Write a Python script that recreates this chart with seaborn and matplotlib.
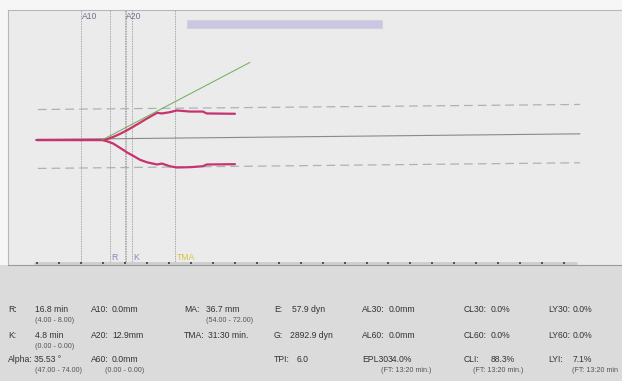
import numpy as np
import pandas as pd
import matplotlib
matplotlib.use("Agg")
import matplotlib.pyplot as plt
import seaborn as sns
from matplotlib.patches import Rectangle

# ---------------- data ----------------
trace_time = [0, 14.9, 16.0, 17.4, 19.0, 20.6, 21.9, 23.5, 25.1, 27.4, 28.5, 30.3, 31.9, 34.9, 37.8, 38.7, 45.1]
upper_amp = [0, 0, 0.5, 1.9, 3.9, 6.2, 8.3, 10.9, 13.6, 17.2, 16.8, 17.6, 18.7, 18.0, 18.0, 16.8, 16.6]
lower_amp = [0, 0, -0.8, -2.2, -5.0, -7.9, -9.9, -12.5, -14.1, -15.5, -14.9, -16.6, -17.4, -17.2, -16.6, -15.5, -15.3]

alpha_time = [14.9, 48.5]
alpha_amp = [0, 49.1]

ref_time = [0.3, 123.5]
center_ref = [0.3, 3.9]
upper_ref = [19.3, 22.5]
lower_ref = [-18.0, -14.4]

vline_times = [10.0, 16.8, 20.0, 20.35, 21.6, 31.5]
top_label_names = ["A10", "A20"]
top_label_times = [10.0, 20.0]
bottom_label_names = ["R", "K", "TMA"]
bottom_label_times = [16.8, 21.6, 31.5]

tick_times = list(range(0, 125, 5))

stat_labels = ["R:", "K:", "Alpha:", "A10:", "A20:", "A60:", "MA:", "TMA:",
               "E:", "G:", "TPI:", "AL30:", "AL60:", "EPL30",
               "CL30:", "CL60:", "CLI:", "LY30:", "LY60:", "LYI:"]
stat_values = ["16.8 min", "4.8 min", "35.53 °", "0.0mm", "12.9mm", "0.0mm",
               "36.7 mm", "31:30 min.", "57.9 dyn", "2892.9 dyn", "6.0",
               "0.0mm", "0.0mm", "34.0%", "0.0%", "0.0%", "88.3%",
               "0.0%", "0.0%", "7.1%"]
stat_ranges = ["(4.00 - 8.00)", "(0.00 - 0.00)", "(47.00 - 74.00)", "", "", "(0.00 - 0.00)",
               "(54.00 - 72.00)", "", "", "", "", "", "", "(FT: 13:20 min.)",
               "", "", "(FT: 13:20 min.)", "", "", "(FT: 13:20 min"]

# ---------------- layout (pixels) ----------------
label_x = [8, 8, 8, 91, 91, 91, 184, 184, 274, 274, 274, 362, 362, 362, 464, 464, 464, 548, 548, 548]
value_x = [35, 35, 34, 112, 112, 112, 206, 208, 292, 290, 297, 389, 389, 388, 491, 491, 491, 573, 573, 573]
sub_x = [35, 35, 35, 0, 0, 105, 206, 0, 0, 0, 0, 0, 0, 381, 0, 0, 473, 0, 0, 572]
row_idx = [0, 1, 2, 0, 1, 2, 0, 1, 0, 1, 2, 0, 1, 2, 0, 1, 2, 0, 1, 2]
row_y = [309, 335, 359]
sub_dy = 11

sns.set_style("white")
plt.rcParams["font.family"] = ["Liberation Sans", "DejaVu Sans"]

W, H = 622, 381
fig = plt.figure(figsize=(W / 100, H / 100), dpi=100)
fig.patch.set_facecolor("#f6f6f6")


def fx(x):
    return x / W


def fy(y):
    return 1 - y / H


# grey lower paper panel
fig.patches.append(Rectangle((0, 0), 1, fy(265), transform=fig.transFigure,
                             facecolor="#dbdbdb", edgecolor="none", zorder=-1))

ax = fig.add_axes([fx(8), fy(265), 1 - fx(8), fy(10) - fy(265)])
ax.set_facecolor("#ebebeb")
ax.set_xlim(-6.48, 133.07)
ax.set_ylim(-79.11, 82.28)
bar_y = -77.9

# reference lines
ax.plot(ref_time, center_ref, color="#8a8a8a", lw=0.8, zorder=2)
ax.plot(ref_time, upper_ref, color="#aab3b8", lw=0.9, dashes=(7, 4), zorder=2)
ax.plot(ref_time, lower_ref, color="#aab3b8", lw=0.9, dashes=(7, 4), zorder=2)

# vertical markers
ax.vlines(vline_times, bar_y, 82.28, colors="#909090", linestyles=(0, (1, 1)), lw=0.6, zorder=1)

# time axis bar with ticks
ax.plot([tick_times[0] - 0.3, ref_time[-1] - 0.8], [bar_y, bar_y], color="#cdcdcd", lw=2.0, zorder=2)
ax.scatter(tick_times, [bar_y] * len(tick_times), s=3, marker="s", color="#555555", zorder=3, linewidths=0)

# trace
n = len(trace_time)
df = pd.DataFrame({"time": trace_time * 2,
                   "amp": upper_amp + lower_amp,
                   "branch": ["upper"] * n + ["lower"] * n})
sns.lineplot(data=df, x="time", y="amp", units="branch", estimator=None, sort=False,
             color="#c8326e", lw=1.6, ax=ax, zorder=4)
sns.lineplot(x=alpha_time, y=alpha_amp, color="#6aa84f", lw=0.8, alpha=0.85, ax=ax, zorder=5)

# labels on chart
for name, t in zip(top_label_names, top_label_times):
    ax.text(t + 0.4, 78.3, name, fontsize=6.2, color="#6c7488", va="center", ha="left")
bottom_colors = ["#7f8bb5", "#7f8bb5", "#d8c640"]
for name, t, c in zip(bottom_label_names, bottom_label_times, bottom_colors):
    ax.text(t + 0.3, -74.5, name, fontsize=6.2, color=c, va="center", ha="left")

# lavender status bar
ax.add_patch(Rectangle((0.2915, 0.9294), 0.3176, 0.0314, transform=ax.transAxes,
                       facecolor="#cbc5e6", edgecolor="#d3d3d3", lw=0.8, zorder=3))

ax.set_xticks([])
ax.set_yticks([])
ax.set_xlabel("")
ax.set_ylabel("")
for s in ["top", "left"]:
    ax.spines[s].set_color("#b8b8b8")
    ax.spines[s].set_linewidth(0.8)
ax.spines["right"].set_visible(False)
ax.spines["bottom"].set_color("#9a9a9a")
ax.spines["bottom"].set_linewidth(0.8)
leg = ax.get_legend()
if leg:
    leg.remove()

# stats panel
for i, lab in enumerate(stat_labels):
    y = row_y[row_idx[i]]
    fig.text(fx(label_x[i]), fy(y), lab, fontsize=6.2, color="#333333", va="center", ha="left")
    fig.text(fx(value_x[i]), fy(y), stat_values[i], fontsize=6.2, color="#333333", va="center", ha="left")
    if stat_ranges[i]:
        fig.text(fx(sub_x[i]), fy(y + sub_dy), stat_ranges[i], fontsize=5.1, color="#555555",
                 va="center", ha="left")

fig.savefig("out.png", dpi=100, facecolor=fig.get_facecolor())
